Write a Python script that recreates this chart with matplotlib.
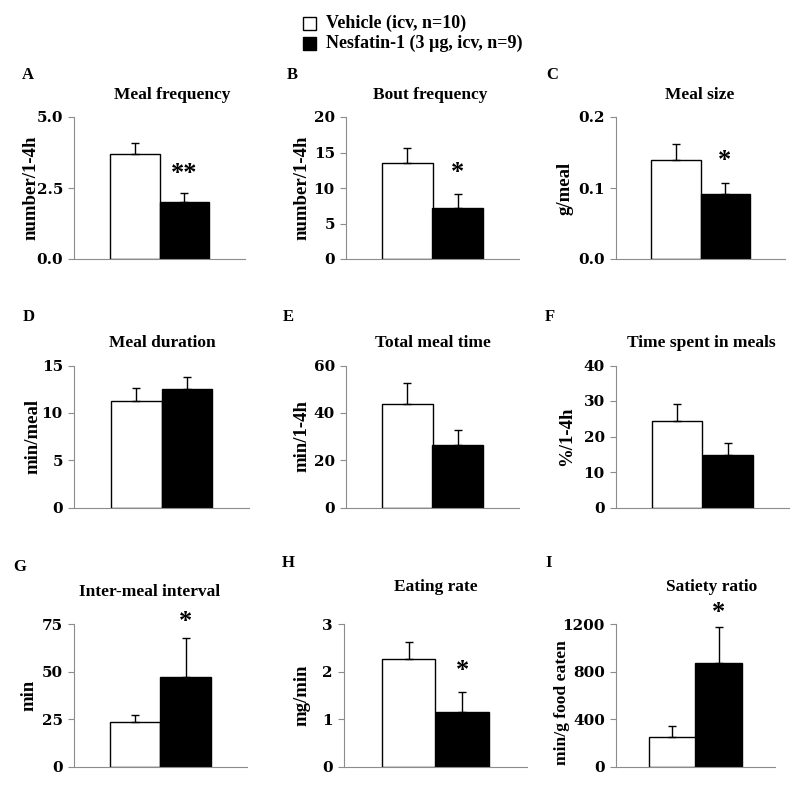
import matplotlib
matplotlib.use("Agg")
import matplotlib.pyplot as plt
import numpy as np
from matplotlib.patches import Rectangle

plt.rcParams['font.family'] = ['Liberation Serif', 'DejaVu Serif']
plt.rcParams['font.weight'] = 'bold'

# ---------------- data ----------------
letters = ["A", "B", "C", "D", "E", "F", "G", "H", "I"]
titles = ["Meal frequency", "Bout frequency", "Meal size",
          "Meal duration", "Total meal time", "Time spent in meals",
          "Inter-meal interval", "Eating rate", "Satiety ratio"]
ylabels = ["number/1-4h", "number/1-4h", "g/meal",
           "min/meal", "min/1-4h", "%/1-4h",
           "min", "mg/min", "min/g food eaten"]
vehicle = [3.7, 13.5, 0.140, 11.25, 43.6, 24.3, 23.5, 2.26, 253]
vehicle_err = [0.38, 2.2, 0.022, 1.35, 9.2, 4.9, 3.7, 0.37, 90]
nesfatin = [2.0, 7.2, 0.0915, 12.5, 26.5, 14.7, 47.0, 1.16, 876]
nesfatin_err = [0.32, 1.95, 0.0155, 1.3, 6.3, 3.5, 21.0, 0.41, 304]
yticks = [[0, 2.5, 5.0], [0, 5, 10, 15, 20], [0, 0.1, 0.2],
          [0, 5, 10, 15], [0, 20, 40, 60], [0, 10, 20, 30, 40],
          [0, 25, 50, 75], [0, 1, 2, 3], [0, 400, 800, 1200]]
yticklabels = [["0.0", "2.5", "5.0"], ["0", "5", "10", "15", "20"],
               ["0.0", "0.1", "0.2"], ["0", "5", "10", "15"],
               ["0", "20", "40", "60"], ["0", "10", "20", "30", "40"],
               ["0", "25", "50", "75"], ["0", "1", "2", "3"],
               ["0", "400", "800", "1200"]]
stars = ["**", "*", "*", "", "", "", "*", "*", "*"]
legend_labels = ["Vehicle (icv, n=10)", "Nesfatin-1 (3 µg, icv, n=9)"]

# ---------------- layout (pixels) ----------------
W, H = 800, 786
fig = plt.figure(figsize=(W / 100, H / 100), dpi=100)

ax_lr = [(74, 245), (346, 519), (616, 785),
         (74, 249), (346, 519), (616, 789),
         (74, 247), (344, 527), (616, 775)]
row_tb = [(117, 259), (365.5, 507.5), (624.3, 766.7)]
title_xy = [(172, 95), (430, 95), (700, 95),
            (162, 343), (433, 343), (701, 343),
            (150, 592), (436, 587), (712, 587)]
letter_xy = [(28, 75), (292, 75), (552, 75),
             (29, 317), (288, 317), (550, 317),
             (20, 567), (288, 563), (549, 563)]
ylabel_base_x = [35, 306, 570, 37, 306.5, 571, 33, 306.5, 566]
ylabel_size = [13.5, 13.5, 13.5, 13.5, 13.5, 13.5, 13.5, 13.5, 12.6]
star_offset = [6, 7, 8, 0, 0, 0, 3, 7, 2]


def fx(px):
    return px / W


def fy(py):
    return 1 - py / H


gray = "#8c8c8c"
for i in range(9):
    l, r = ax_lr[i]
    t, b = row_tb[i // 3]
    ax = fig.add_axes([fx(l), fy(b), (r - l) / W, (b - t) / H])
    span = 2 / 0.58
    x0 = -0.5 - 0.21 * span
    ax.set_xlim(x0, x0 + span)
    ax.set_ylim(0, yticks[i][-1])
    ax.bar([0], [vehicle[i]], width=1.0, color="white", edgecolor="black",
           linewidth=1.0, zorder=2)
    ax.bar([1], [nesfatin[i]], width=1.0, color="black", edgecolor="black",
           linewidth=1.0, zorder=2)
    ax.errorbar([0, 1], [vehicle[i], nesfatin[i]],
                yerr=[[0, 0], [vehicle_err[i], nesfatin_err[i]]],
                fmt="none", ecolor="black", elinewidth=1.0, capsize=3,
                capthick=1.0, zorder=3, clip_on=False)
    for s in ["top", "right"]:
        ax.spines[s].set_visible(False)
    for s in ["left", "bottom"]:
        ax.spines[s].set_color(gray)
        ax.spines[s].set_linewidth(0.8)
    ax.set_xticks([])
    ax.set_yticks(yticks[i])
    ax.set_yticklabels(yticklabels[i], family=['DejaVu Serif'],
                       fontweight="bold", fontsize=11)
    ax.tick_params(axis="y", direction="out", length=4, color=gray, pad=4)
    ax.set_ylabel(ylabels[i], fontsize=ylabel_size[i], fontweight="bold")
    ax.yaxis.label.set_verticalalignment("baseline")
    ax.yaxis.set_label_coords((ylabel_base_x[i] - l) / (r - l), 0.45 if i == 8 else 0.5)
    if stars[i]:
        top = nesfatin[i] + nesfatin_err[i]
        ax.annotate(stars[i], xy=(1, top), xytext=(0, star_offset[i]),
                    textcoords="offset points", ha="center", va="bottom",
                    fontsize=19, fontweight="bold", annotation_clip=False)
    tx, ty = title_xy[i]
    fig.text(fx(tx), fy(ty), titles[i], ha="center", va="center",
             fontsize=12.5, fontweight="bold")
    lx, ly = letter_xy[i]
    fig.text(fx(lx), fy(ly), letters[i], ha="center", va="center",
             fontsize=12, fontweight="bold")

# legend
sq = [(303, 17, "white"), (303, 37, "black")]
for (sx, sy, c), lab in zip(sq, legend_labels):
    fig.patches.append(Rectangle((fx(sx), fy(sy + 12.5)), 12.5 / W, 12.5 / H,
                                 transform=fig.transFigure, facecolor=c,
                                 edgecolor="black", linewidth=1.0))
    fig.text(fx(326), fy(sy + 6.5), lab, ha="left", va="center",
             fontsize=13, fontweight="bold")

fig.savefig("out.png", dpi=100)
